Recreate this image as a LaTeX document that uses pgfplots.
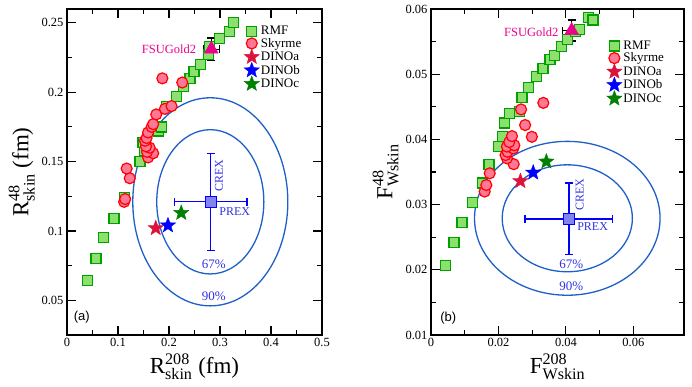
\documentclass[border=0pt]{standalone}
\usepackage{fontspec}
\setmainfont{Liberation Serif}
\newfontfamily\sansf{Liberation Sans}
\usepackage{pgfplots}
\pgfplotsset{compat=1.18}

\definecolor{rmfedge}{RGB}{0,160,0}
\definecolor{rmffill}{RGB}{140,225,110}
\definecolor{skyedge}{RGB}{255,0,0}
\definecolor{skyfill}{RGB}{255,120,150}
\definecolor{dinoa}{RGB}{220,20,60}
\definecolor{dinob}{RGB}{0,0,255}
\definecolor{dinoc}{RGB}{0,128,0}
\definecolor{ellcol}{RGB}{30,95,200}
\definecolor{lbl}{RGB}{50,50,230}
\definecolor{expfill}{RGB}{130,130,240}

% filled five-pointed star
\pgfdeclareplotmark{fstar}{%
  \pgfpathmoveto{\pgfpointpolar{90}{\pgfplotmarksize}}%
  \pgfpathlineto{\pgfpointpolar{126}{0.42\pgfplotmarksize}}%
  \pgfpathlineto{\pgfpointpolar{162}{\pgfplotmarksize}}%
  \pgfpathlineto{\pgfpointpolar{198}{0.42\pgfplotmarksize}}%
  \pgfpathlineto{\pgfpointpolar{234}{\pgfplotmarksize}}%
  \pgfpathlineto{\pgfpointpolar{270}{0.42\pgfplotmarksize}}%
  \pgfpathlineto{\pgfpointpolar{306}{\pgfplotmarksize}}%
  \pgfpathlineto{\pgfpointpolar{342}{0.42\pgfplotmarksize}}%
  \pgfpathlineto{\pgfpointpolar{18}{\pgfplotmarksize}}%
  \pgfpathlineto{\pgfpointpolar{54}{0.42\pgfplotmarksize}}%
  \pgfpathclose
  \pgfusepathqfillstroke}

\pgfplotsset{
  panel/.style={
    scale only axis, height=326pt,
    axis line style={line width=1.1pt},
    every tick/.style={black, line width=1.1pt},
    major tick length=9pt, minor tick length=5pt,
    tick align=inside,
    minor x tick num=1, minor y tick num=1,
    scaled ticks=false,
    tick label style={font=\fontsize{12.5}{14}\selectfont},
    /pgf/number format/assume math mode=true,
    /pgf/number format/fixed,
    label style={font=\fontsize{23}{26}\selectfont},
    legend style={draw=none, fill=none, font=\fontsize{13}{14.5}\selectfont,
      anchor=north west, inner sep=1pt, row sep=-1.2pt,
      nodes={inner sep=1.5pt}},
    legend cell align=left,
  },
  rmf/.style={only marks, mark=square*, mark size=5pt,
    mark options={draw=rmfedge, fill=rmffill, line width=1.2pt}},
  sky/.style={only marks, mark=*, mark size=5.5pt,
    mark options={draw=skyedge, fill=skyfill, line width=1.2pt}},
  dino/.style={only marks, mark=fstar, mark size=8pt,
    mark options={draw=#1, fill=#1, line width=0.4pt}},
  errs/.style={forget plot, only marks, mark=none,
    error bars/.cd, x dir=both, x explicit, y dir=both, y explicit,
    error bar style={#1, line width=1.3pt},
    error mark options={rotate=90, #1, mark size=4pt, line width=1.3pt}},
}

\begin{document}
\begin{tikzpicture}
\path[use as bounding box] (0,0) rectangle (692pt,387pt);

% ---------- panel (a) ----------
\begin{axis}[panel,
  at={(67pt,52pt)}, anchor=south west, width=255pt,
  xmin=0, xmax=0.5, ymin=0.025, ymax=0.26,
  xtick={0,0.1,...,0.5}, ytick={0.05,0.1,0.15,0.2,0.25},
  xlabel={$\mathrm{R^{208}_{skin}}$ (fm)},
  ylabel={$\mathrm{R^{48}_{skin}}$ (fm)},
  legend style={at={(rel axis cs:0.69,0.955)}},
]
\draw[ellcol, line width=1.3pt] (axis cs:0.281,0.121) ellipse [x radius=0.152, y radius=0.075];
\draw[ellcol, line width=1.3pt] (axis cs:0.281,0.121) ellipse [x radius=0.105, y radius=0.052];

\addplot[rmf] coordinates {
(0.040,0.064) (0.057,0.080) (0.071,0.095) (0.092,0.109) (0.112,0.124)
(0.143,0.150) (0.152,0.158) (0.149,0.164) (0.180,0.172) (0.185,0.175)
(0.195,0.190) (0.215,0.197) (0.228,0.204) (0.241,0.210) (0.249,0.215)
(0.262,0.220) (0.277,0.227) (0.279,0.233) (0.299,0.239) (0.318,0.2436)
(0.327,0.250)
};
\addlegendentry{RMF}
\addplot[sky] coordinates {
(0.112,0.121) (0.114,0.123) (0.123,0.138) (0.117,0.145) (0.159,0.153)
(0.169,0.156) (0.157,0.157) (0.162,0.160) (0.155,0.161) (0.153,0.165)
(0.156,0.167) (0.159,0.171) (0.166,0.175) (0.169,0.177) (0.175,0.184)
(0.192,0.188) (0.205,0.190) (0.187,0.210) (0.226,0.207)
};
\addlegendentry{Skyrme}
\addplot[dino=dinoa] coordinates {(0.174,0.102)};
\addlegendentry{DINOa}
\addplot[dino=dinob] coordinates {(0.198,0.104)};
\addlegendentry{DINOb}
\addplot[dino=dinoc] coordinates {(0.224,0.113)};
\addlegendentry{DINOc}

% PREX / CREX
\addplot[errs=blue] coordinates {(0.282,0.121) +- (0.071,0.035)};
\addplot[forget plot, only marks, mark=square*, mark size=5.5pt,
  mark options={draw=blue, fill=expfill, line width=1.2pt}]
  coordinates {(0.282,0.121)};
% FSUGold2
\addplot[errs=black] coordinates {(0.283,0.231) +- (0.016,0.008)};
\addplot[forget plot, only marks, mark=triangle*, mark size=8pt,
  mark options={draw=magenta, fill=magenta}]
  coordinates {(0.283,0.231)};

\node[magenta, font=\fontsize{12.5}{14}\selectfont] at (axis cs:0.200,0.231) {FSUGold2};
\node[lbl, font=\fontsize{12}{13}\selectfont, rotate=90] at (axis cs:0.298,0.140) {CREX};
\node[lbl, font=\fontsize{12}{13}\selectfont] at (axis cs:0.329,0.114) {PREX};
\node[lbl, font=\fontsize{13}{14}\selectfont] at (axis cs:0.288,0.076) {67\%};
\node[lbl, font=\fontsize{13}{14}\selectfont] at (axis cs:0.288,0.053) {90\%};
\node[font=\sansf\fontsize{13}{14}\selectfont] at (axis cs:0.029,0.0376) {(a)};
\end{axis}

% ---------- panel (b) ----------
\begin{axis}[panel,
  at={(431pt,52pt)}, anchor=south west, width=253pt,
  xmin=0, xmax=0.075, ymin=0.01, ymax=0.06,
  xtick={0,0.02,0.04,0.06}, ytick={0.01,0.02,...,0.06},
  yticklabel style={/pgf/number format/precision=2, /pgf/number format/fixed zerofill},
  xticklabels={0,0.02,0.04,0.06},
  xlabel={$\mathrm{F^{208}_{Wskin}}$},
  ylabel={$\mathrm{F^{48}_{Wskin}}$},
  legend style={at={(rel axis cs:0.69,0.91)}},
]
\draw[ellcol, line width=1.3pt] (axis cs:0.0404,0.0279) ellipse [x radius=0.0275, y radius=0.0118];
\draw[ellcol, line width=1.3pt] (axis cs:0.0404,0.0279) ellipse [x radius=0.0193, y radius=0.0082];

\addplot[rmf] coordinates {
(0.0044,0.0207) (0.0068,0.0242) (0.0092,0.0272) (0.0123,0.0303) (0.0153,0.0333)
(0.0172,0.0361) (0.0201,0.0389) (0.0211,0.0405) (0.0218,0.0425) (0.0232,0.0440)
(0.0262,0.0443) (0.0270,0.0464) (0.0289,0.0480) (0.0313,0.0496) (0.0332,0.0509)
(0.0353,0.0522) (0.0365,0.0529) (0.0387,0.0543) (0.0404,0.0553) (0.0428,0.0565)
(0.0440,0.0569) (0.0468,0.0587) (0.0480,0.0583)
};
\addlegendentry{RMF}
\addplot[sky] coordinates {
(0.0159,0.0320) (0.0164,0.0330) (0.0174,0.0348) (0.0245,0.0362) (0.0225,0.0371)
(0.0221,0.0376) (0.0227,0.0381) (0.0244,0.0386) (0.0225,0.0389) (0.0247,0.0391)
(0.0232,0.0396) (0.0240,0.0405) (0.0299,0.0404) (0.0279,0.0422) (0.0267,0.0446)
(0.0333,0.0456)
};
\addlegendentry{Skyrme}
\addplot[dino=dinoa] coordinates {(0.0265,0.0336)};
\addlegendentry{DINOa}
\addplot[dino=dinob] coordinates {(0.0303,0.0349)};
\addlegendentry{DINOb}
\addplot[dino=dinoc] coordinates {(0.0342,0.0366)};
\addlegendentry{DINOc}

\addplot[errs=blue] coordinates {(0.0409,0.0278) +- (0.013,0.0055)};
\addplot[forget plot, only marks, mark=square*, mark size=5.5pt,
  mark options={draw=blue, fill=expfill, line width=1.2pt}]
  coordinates {(0.0409,0.0278)};
\addplot[errs=black] coordinates {(0.0417,0.0567) +- (0.0027,0.0016)};
\addplot[forget plot, only marks, mark=triangle*, mark size=8pt,
  mark options={draw=magenta, fill=magenta}]
  coordinates {(0.0417,0.0567)};

\node[magenta, font=\fontsize{12.5}{14}\selectfont] at (axis cs:0.0297,0.0565) {FSUGold2};
\node[lbl, font=\fontsize{12}{13}\selectfont, rotate=90] at (axis cs:0.0441,0.0315) {CREX};
\node[lbl, font=\fontsize{12}{13}\selectfont] at (axis cs:0.0479,0.0266) {PREX};
\node[lbl, font=\fontsize{13}{14}\selectfont] at (axis cs:0.0416,0.0209) {67\%};
\node[lbl, font=\fontsize{13}{14}\selectfont] at (axis cs:0.0416,0.0174) {90\%};
\node[font=\sansf\fontsize{13}{14}\selectfont] at (axis cs:0.0051,0.01256) {(b)};
\end{axis}
\end{tikzpicture}
\end{document}
